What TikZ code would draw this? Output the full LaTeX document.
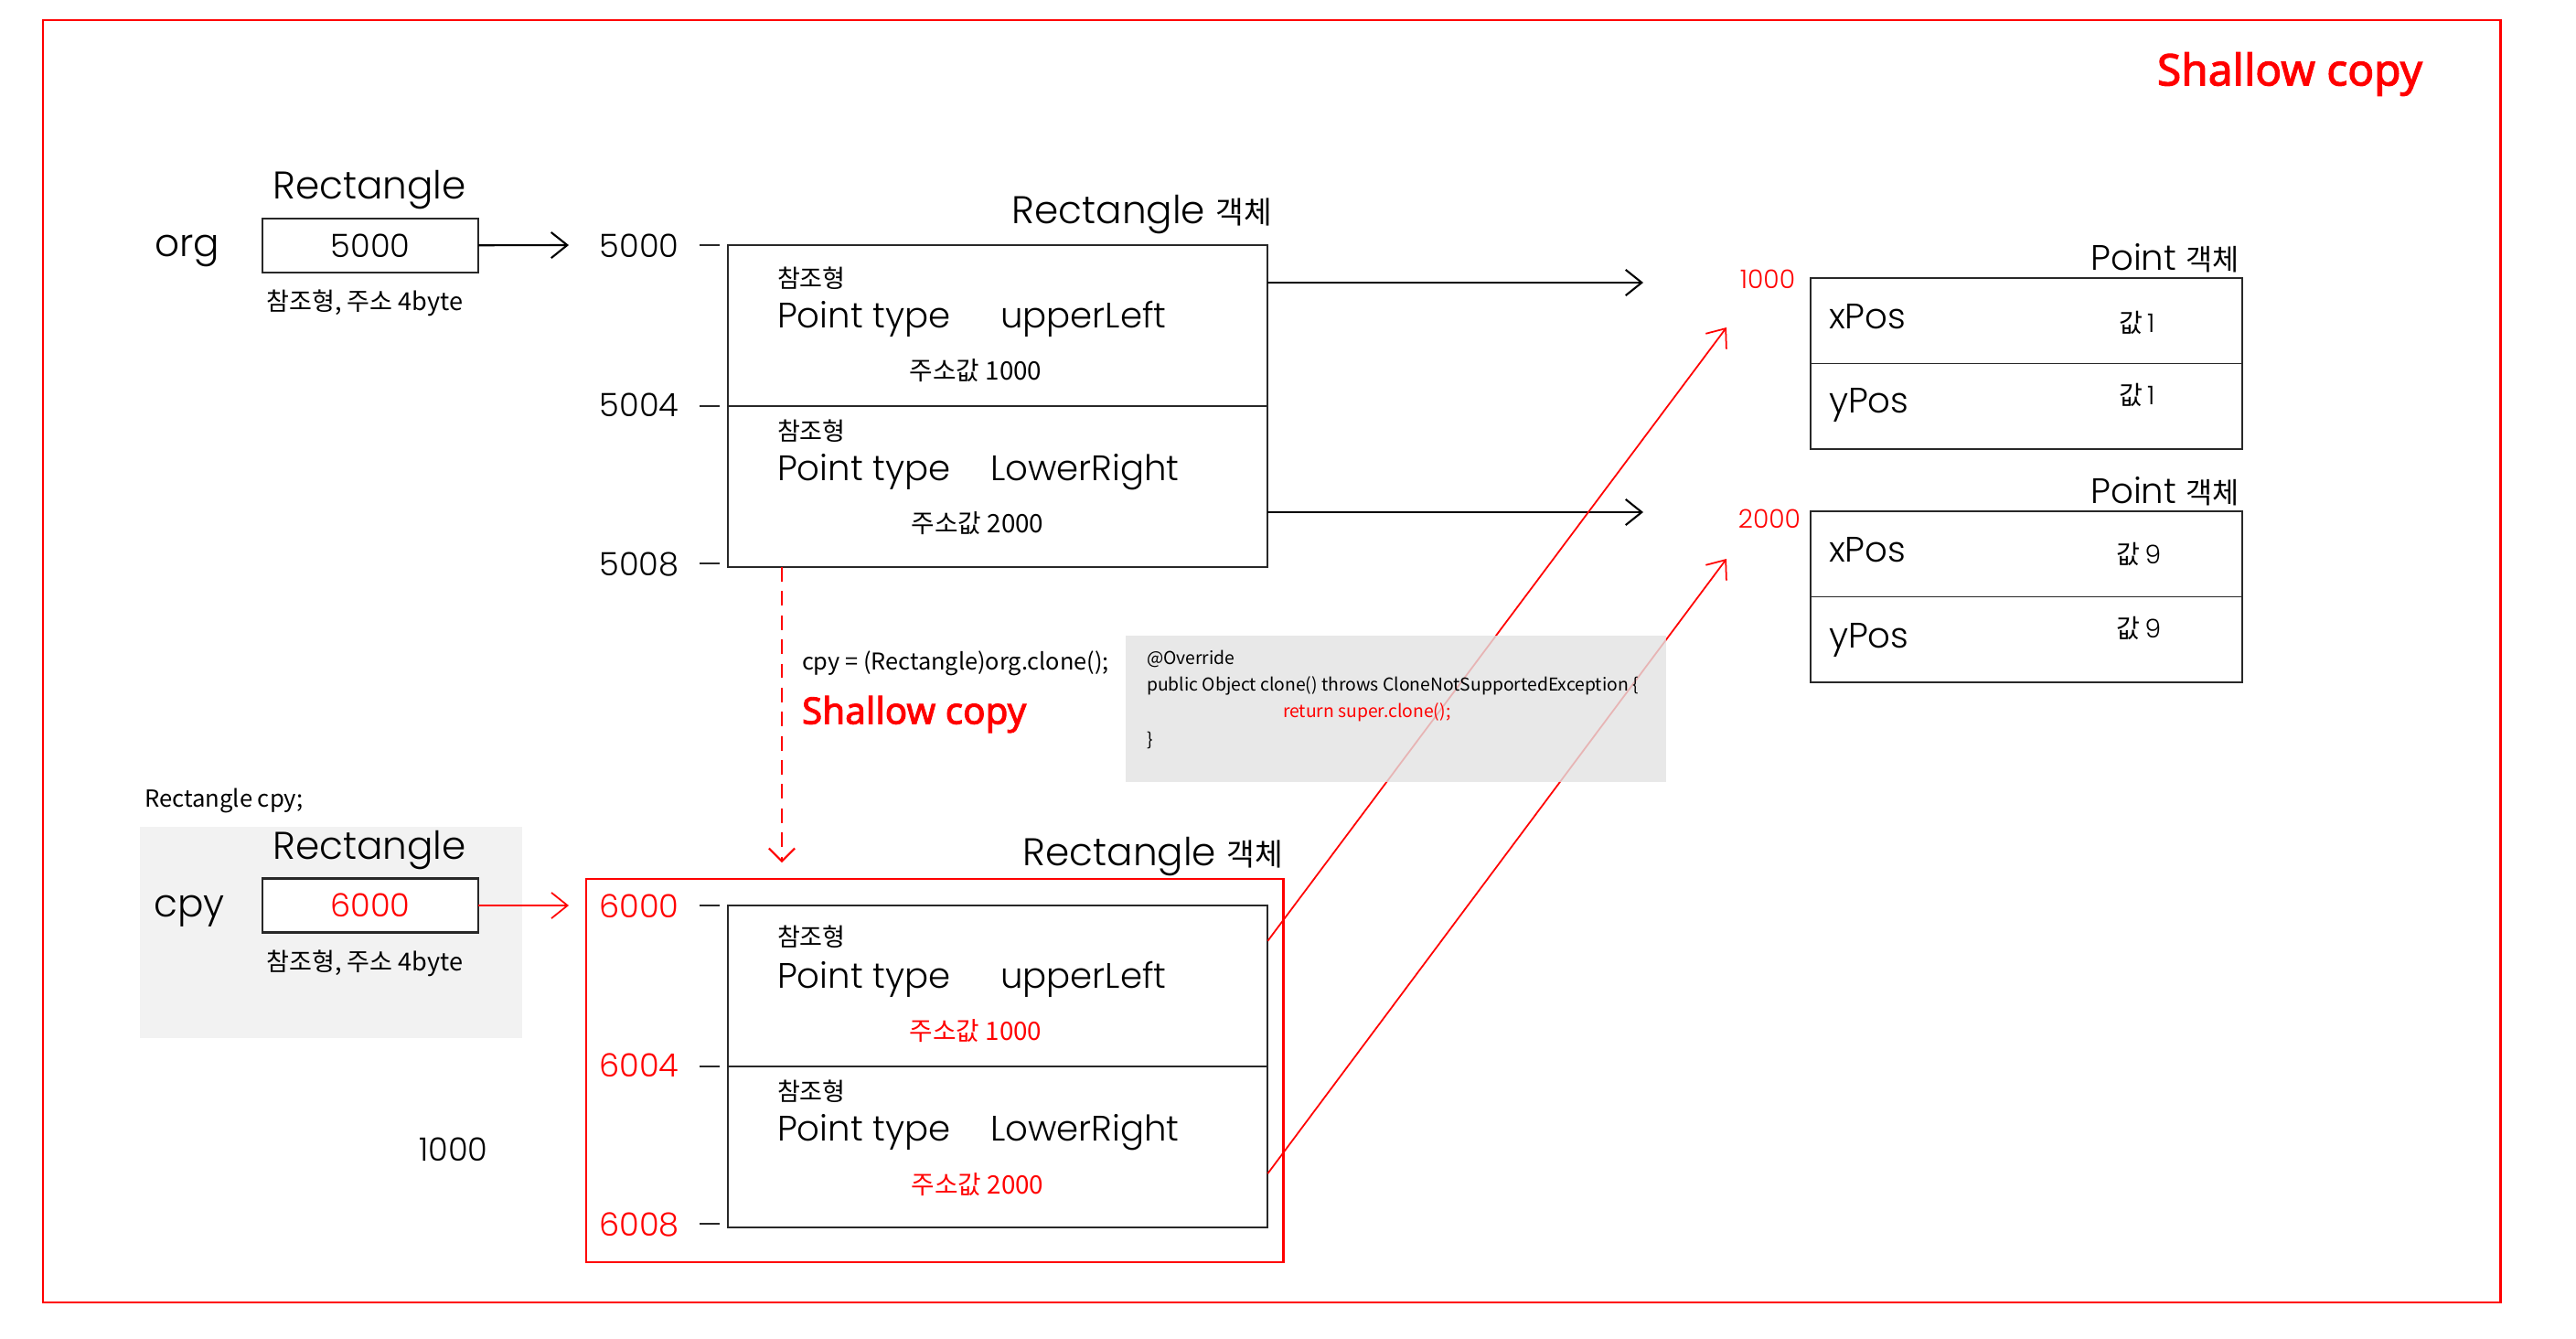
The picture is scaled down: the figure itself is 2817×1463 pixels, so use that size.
\documentclass[tikz,border=0pt]{standalone}
\usepackage{fontspec}
\usetikzlibrary{arrows.meta,calc}
\newfontfamily\geo{Poppins Light}
\newfontfamily\kr{Noto Sans CJK KR}
\newfontfamily\nsansb{Noto Sans}[FakeBold=2.2]
\newcommand\myfs[1]{\fontsize{#1}{#1}\selectfont}
\definecolor{codegray}{RGB}{226,226,226}
\definecolor{backgray}{RGB}{242,242,242}
\definecolor{linegray}{RGB}{40,40,40}
\tikzset{
  every node/.style={inner sep=0pt, outer sep=0pt},
  geoL/.style={font={\geo\myfs{12pt}}},
  geoM/.style={font={\geo\myfs{11pt}}},
  geoN/.style={font={\geo\myfs{10pt}}},
  geoS/.style={font={\geo\myfs{8pt}}},
  krs/.style={font={\kr\myfs{7.7pt}}},
  kra/.style={font={\kr\myfs{7.9pt}}},
  krc/.style={font={\kr\myfs{5.5pt}}},
  shallow/.style={font={\nsansb\myfs{11.5pt}}, text=red},
  cellbox/.style={draw=linegray, line width=0.6pt, rectangle, minimum width=5.90cm, minimum height=1.76cm, anchor=north west},
  ptbox/.style={draw=linegray, line width=0.5pt, rectangle, minimum width=4.72cm, minimum height=0.935cm, anchor=north west},
  varbox/.style={draw=linegray, line width=0.6pt, rectangle, minimum width=2.36cm, minimum height=0.59cm, font={\geo\myfs{10pt}}},
  arr/.style={-{Straight Barb[length=5pt,width=8pt]}, line width=0.6pt, black},
  redarr/.style={-{Straight Barb[length=5pt,width=8pt]}, line width=0.5pt, red},
  dasharr/.style={-{Straight Barb[length=4pt,width=8pt]}, line width=0.6pt, red, dash pattern=on 4.5pt off 3pt},
  tick/.style={line width=0.5pt, linegray},
}
\begin{document}
\begin{tikzpicture}[x=0.01cm,y=-0.01cm]
\useasboundingbox (0,0) rectangle (2817,1463);
% outer frame
\node[draw=red, line width=0.7pt, minimum width=26.86cm, minimum height=14.01cm, anchor=north west] (frame) at (47,22) {};
\node[shallow, font={\nsansb\myfs{13.6pt}}] (title) at (2504,81) {Shallow copy};

% ---- org variable
\node[geoL] (rlab1) at (404,208) {Rectangle};
\node[geoL] (org) at (205,274) {org};
\node[varbox] (orgbox) at (405,268.5) {5000};
\node[krs] (orgnote) at (399,331) {참조형, 주소 4byte};
\coordinate (orgtip) at (622,268);
\draw[arr] (orgbox) -- (orgtip);

% ---- Rectangle object 1
\node[geoL] (o1t) at (1249,235) {Rectangle {\kr\myfs{9.5pt}객체}};
\node[cellbox] (c1a) at (796,268) {};
\node[cellbox] (c1b) at (796,444) {};
\node[geoN] (a5000) at (699,269) {5000};
\node[geoN] (a5004) at (699,443) {5004};
\node[geoN] (a5008) at (699,617) {5008};
\draw[tick] ([xshift=-0.09cm]c1a.north west) -- ++(-22,0);
\draw[tick] ([xshift=-0.09cm]c1b.north west) -- ++(-22,0);
\draw[tick] ([xshift=-0.09cm,yshift=0.04cm]c1b.south west) -- ++(-22,0);
\node[krs, anchor=west] (k1a) at (850,304) {참조형};
\node[geoM, anchor=west] (pt1a) at (850,349) {Point type};
\node[geoM, anchor=west] (ul1a) at (1094,349) {upperLeft};
\node[kra] (ad1a) at (1067,405) {주소값 1000};
\node[krs, anchor=west] (k1b) at (850,471) {참조형};
\node[geoM, anchor=west] (pt1b) at (850,516) {Point type};
\node[geoM, anchor=west] (lr1b) at (1083,516) {LowerRight};
\node[kra] (ad1b) at (1069,572) {주소값 2000};

% ---- Point objects
\node[geoM, anchor=east] (pobj1) at (2449,282) {Point {\kr\myfs{9pt}객체}};
\node[ptbox] (p1x) at (1980,304) {};
\node[ptbox] (p1y) at (1980,397.5) {};
\node[geoS, text=red] (m1000) at (1933,305) {1000};
\node[geoM, anchor=west] (x1) at (2000,346) {xPos};
\node[geoM, anchor=west] (y1) at (2000,443) {yPos};
\node[geoS] (v1x) at (2337,353) {{\kr 값}\,1};
\node[geoS] (v1y) at (2337,432) {{\kr 값}\,1};

\node[geoM, anchor=east] (pobj2) at (2449,537) {Point {\kr\myfs{9pt}객체}};
\node[ptbox] (p2x) at (1980,559) {};
\node[ptbox] (p2y) at (1980,652.5) {};
\node[geoS, text=red] (m2000) at (1935,567) {2000};
\node[geoM, anchor=west] (x2) at (2000,601) {xPos};
\node[geoM, anchor=west] (y2) at (2000,700) {yPos};
\node[geoS] (v2x) at (2339,606) {{\kr 값}\,9};
\node[geoS] (v2y) at (2339,687) {{\kr 값}\,9};

\coordinate (h1) at (1797,309);
\coordinate (h2) at (1797,560);
\draw[arr] (c1a.east |- h1) -- (h1);
\draw[arr] (c1b.east |- h2) -- (h2);

% ---- clone call
\coordinate (dtip) at (855,943);
\draw[dasharr] (c1b.south -| dtip) -- (dtip);
\node[krs, font={\kr\myfs{7.2pt}}, anchor=west] (clonecall) at (877,725) {cpy = (Rectangle)org.clone();};
\node[shallow, anchor=west] (shmid) at (877,781) {Shallow copy};

% ---- cpy variable
\node[krs, font={\kr\myfs{7.3pt}}, anchor=west] (rcpy) at (158,875) {Rectangle cpy;};
\node[fill=backgray, minimum width=4.18cm, minimum height=2.31cm, anchor=north west] (cpyback) at (153,904) {};
\node[geoL] (rlab2) at (404,930) {Rectangle};
\node[geoL] (cpy) at (207,996) {cpy};
\node[varbox, fill=white, text=red] (cpybox) at (405,990) {6000};
\node[krs] (cpynote) at (399,1053) {참조형, 주소 4byte};
\coordinate (cpytip) at (622,990);
\draw[redarr] (cpybox) -- (cpytip);
\node[geoN] (n1000) at (496,1257) {1000};

% ---- Rectangle object 2
\node[draw=red, line width=0.6pt, minimum width=7.62cm, minimum height=4.19cm, anchor=north west] (redfr) at (641,961) {};
\node[geoL] (o2t) at (1261,937) {Rectangle {\kr\myfs{9.5pt}객체}};
\node[cellbox] (c2a) at (796,990) {};
\node[cellbox] (c2b) at (796,1166) {};
\node[geoN, text=red] (a6000) at (699,991) {6000};
\node[geoN, text=red] (a6004) at (699,1165) {6004};
\node[geoN, text=red] (a6008) at (699,1339) {6008};
\draw[tick] ([xshift=-0.09cm]c2a.north west) -- ++(-22,0);
\draw[tick] ([xshift=-0.09cm]c2b.north west) -- ++(-22,0);
\draw[tick] ([xshift=-0.09cm,yshift=0.04cm]c2b.south west) -- ++(-22,0);
\node[krs, anchor=west] (k2a) at (850,1024) {참조형};
\node[geoM, anchor=west] (pt2a) at (850,1071) {Point type};
\node[geoM, anchor=west] (ul2a) at (1094,1071) {upperLeft};
\node[kra, text=red] (ad2a) at (1067,1127) {주소값 1000};
\node[krs, anchor=west] (k2b) at (850,1193) {참조형};
\node[geoM, anchor=west] (pt2b) at (850,1238) {Point type};
\node[geoM, anchor=west] (lr2b) at (1083,1238) {LowerRight};
\node[kra, text=red] (ad2b) at (1069,1295) {주소값 2000};

% ---- shared references (shallow copy)
\coordinate (r1t) at (1888,358);
\coordinate (r2t) at (1888,611);
\draw[redarr] ($(c2a.north east)!0.22!(c2a.south east)$) -- (r1t);
\draw[redarr] ($(c2b.north east)!0.665!(c2b.south east)$) -- (r2t);

% ---- code box (semi-transparent over the arrows)
\node[fill=codegray, fill opacity=0.8, minimum width=5.91cm, minimum height=1.60cm, anchor=north west] (code) at (1231,695) {};
\node[krc, anchor=west] (cl1) at (1254,720) {@Override};
\node[krc, anchor=west] (cl2) at (1254,750) {public Object clone() throws CloneNotSupportedException \{};
\node[krc, anchor=west, text=red] (cl3) at (1403,779) {return super.clone();};
\node[krc, anchor=west] (cl4) at (1254,809) {\}};
\end{tikzpicture}
\end{document}
